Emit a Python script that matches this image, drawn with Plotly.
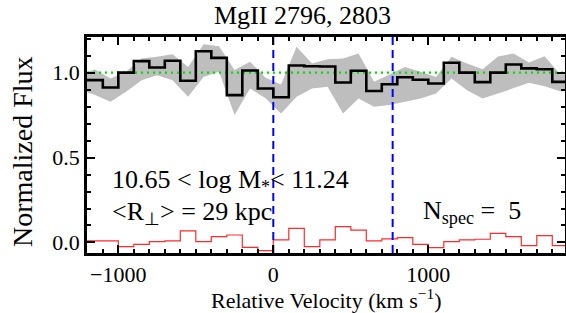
import plotly.graph_objects as go

# ---- data ----
velocity = [-1250, -1150, -1050, -950, -850, -750, -650, -550, -450, -350, -250, -150, -50,
            50, 150, 250, 350, 450, 550, 650, 750, 850, 950, 1050, 1150, 1250, 1350,
            1450, 1550, 1650, 1750, 1850, 1950]

flux = [0.956, 0.956, 0.913, 1.000, 1.068, 1.030, 1.070, 0.952, 1.126, 1.087, 0.868, 1.013, 0.907,
        0.855, 1.042, 1.038, 1.036, 0.942, 1.011, 0.892, 0.932, 0.973, 0.958, 0.936, 1.058, 1.000, 0.944,
        1.000, 1.048, 1.025, 1.020, 0.946, 0.946]

band_upper = [0.99, 1.019, 0.966, 1.005, 1.083, 1.093, 1.109, 1.034, 1.168, 1.156, 1.015, 1.064, 0.970,
              0.930, 1.152, 1.054, 1.079, 1.083, 1.113, 0.946, 0.989, 1.034, 1.005, 0.975, 1.093, 1.054, 1.020,
              1.095, 1.113, 1.060, 1.097, 0.990, 0.990]

band_lower = [0.90, 0.868, 0.828, 0.887, 0.956, 0.985, 0.956, 0.858, 0.975, 1.005, 0.750, 0.907, 0.850,
              0.760, 0.858, 0.907, 0.917, 0.760, 0.848, 0.799, 0.809, 0.828, 0.848, 0.877, 0.966, 0.897, 0.848,
              0.877, 0.907, 0.940, 0.920, 0.890, 0.890]

error = [0.009, 0.009, 0.009, -0.025, -0.011, 0.005, 0.009, 0.068, 0.005, 0.034, 0.044, -0.029, -0.048,
         0.015, 0.083, -0.025, 0.015, 0.093, 0.073, 0.009, 0.021, 0.029, -0.011, -0.030, 0.005, 0.015, 0.019,
         0.054, 0.034, -0.019, 0.040, -0.019, -0.019]

line_velocities = [0, 770]     # MgII 2796 and 2803
continuum = 1.0

title_text = "MgII 2796, 2803"
xlabel = "Relative Velocity (km s<sup>−1</sup>)"
ylabel = "Normalized Flux"
label_mass = "10.65 &lt; log M<sub>*</sub>&lt; 11.24"
label_r = "&lt;R<sub>⊥</sub>&gt; = 29 kpc"
label_n = "N<sub>spec</sub> =  5"

X_RANGE = [-1202, 1882]
Y_RANGE = [-0.062, 1.21]

FONT = "Liberation Serif, Times New Roman, serif"

# plot-area geometry (pixels)
L, R, T, B = 87, 1, 37, 60
W, H = 566, 313
PW, PH = W - L - R, H - T - B


def px(xp):
    return (xp - L) / PW


def py(yp):
    return 1 - (yp - T) / PH


fig = go.Figure()

# gray band
fig.add_trace(go.Scatter(x=velocity, y=band_lower, mode="lines", line=dict(width=0, color="#bebebe"),
                         showlegend=False, hoverinfo="skip"))
fig.add_trace(go.Scatter(x=velocity, y=band_upper, mode="lines", line=dict(width=0, color="#bebebe"),
                         fill="tonexty", fillcolor="#bebebe", showlegend=False, hoverinfo="skip"))

# continuum
fig.add_trace(go.Scatter(x=[X_RANGE[0], X_RANGE[1]], y=[continuum, continuum], mode="lines",
                         line=dict(color="#00dd00", width=2.2, dash="2px,4px"), showlegend=False))

# error spectrum
fig.add_trace(go.Scatter(x=velocity, y=error, mode="lines", line_shape="hvh",
                         line=dict(color="#ff2a2a", width=1.2), showlegend=False))

# line positions
for v in line_velocities:
    fig.add_trace(go.Scatter(x=[v, v], y=Y_RANGE, mode="lines",
                             line=dict(color="#0000ff", width=2, dash="8px,5px"), showlegend=False))

# stacked spectrum
fig.add_trace(go.Scatter(x=velocity, y=flux, mode="lines", line_shape="hvh",
                         line=dict(color="black", width=2.6), showlegend=False))

axis_common = dict(showline=True, linewidth=2.5, linecolor="black", mirror="allticks",
                   ticks="inside", tickcolor="black", tickwidth=1.6, ticklen=8,
                   showgrid=False, zeroline=False, automargin=False,
                   tickfont=dict(family=FONT, size=22, color="black"))

fig.update_xaxes(range=X_RANGE, dtick=1000, tick0=0, ticklabelstandoff=0,
                 minor=dict(dtick=100, tick0=0, ticks="inside", ticklen=4, tickwidth=1.6, tickcolor="black"),
                 **axis_common)
fig.update_yaxes(range=Y_RANGE, dtick=0.5, tick0=0, tickformat=".1f",
                 minor=dict(dtick=0.1, tick0=0, ticks="inside", ticklen=4, tickwidth=1.6, tickcolor="black"),
                 **axis_common)

annots = [
    dict(text=title_text, x=px(302), y=py(15), xanchor="center", yanchor="middle", size=26),
    dict(text=ylabel, x=px(22), y=py(152), xanchor="center", yanchor="middle", size=28, textangle=-90),
    dict(text=xlabel, x=px(326), y=py(299), xanchor="center", yanchor="middle", size=22),
    dict(text=label_mass, x=px(110), y=py(181), xanchor="left", yanchor="middle", size=26),
    dict(text=label_r, x=px(110), y=py(213), xanchor="left", yanchor="middle", size=26),
    dict(text=label_n, x=px(421), y=py(212), xanchor="left", yanchor="middle", size=26),
]
for a in annots:
    size = a.pop("size")
    fig.add_annotation(xref="paper", yref="paper", showarrow=False,
                       font=dict(family=FONT, size=size, color="black"), **a)

fig.update_layout(width=W, height=H, margin=dict(l=L, r=R, t=T, b=B, pad=0),
                  paper_bgcolor="white", plot_bgcolor="white", showlegend=False)

fig.write_html("out.html", config={"displayModeBar": False},
               post_script="document.body.style.margin='0';document.body.style.overflow='hidden';")
